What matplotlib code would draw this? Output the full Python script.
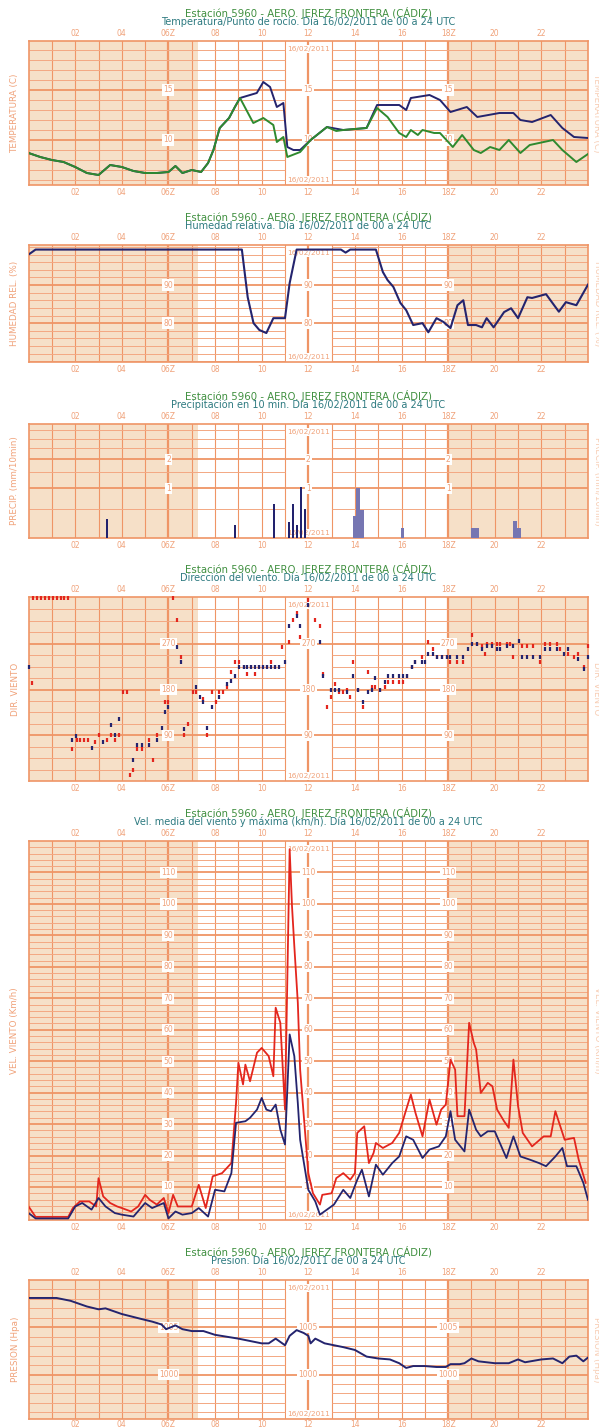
import numpy as np
import matplotlib
matplotlib.use("Agg")
import matplotlib.pyplot as plt
import matplotlib.transforms as mtransforms
from matplotlib.ticker import NullLocator

plt.rcParams['font.family'] = ['DejaVu Sans']

# ---------------- data ----------------
STATION = "Estación 5960 - AERO. JEREZ FRONTERA (CÁDIZ)"
DATE = "16/02/2011"
HOUR_TICKS = [2, 4, 6, 8, 10, 12, 14, 16, 18, 20, 22]
HOUR_LABELS = ["02", "04", "06Z", "08", "10", "12", "14", "16", "18Z", "20", "22"]
SUNRISE, SUNSET = 7.25, 18.05

temp_h = [0, 0.5, 1, 1.5, 2, 2.5, 3, 3.5, 4, 4.5, 5, 5.5, 6, 6.3, 6.6, 7, 7.4, 7.7, 7.93, 8.2,
          8.6, 8.85, 9.07, 9.5, 9.79, 10.07, 10.36, 10.65, 10.93, 11.1, 11.36, 11.65, 12.1, 12.8,
          13.5, 14.5, 14.95, 15.9, 16.2, 16.4, 17.2, 17.65, 18.1, 18.8, 19.25, 20.2, 20.8, 21.1,
          21.6, 22.4, 22.9, 23.4, 24]
temp = [8.7, 8.3, 8.0, 7.8, 7.3, 6.7, 6.5, 7.5, 7.3, 6.9, 6.7, 6.7, 6.8, 7.4, 6.7, 7.0, 6.8, 7.7,
        9.0, 11.2, 12.2, 13.3, 14.2, 14.5, 14.7, 15.8, 15.3, 13.3, 13.7, 9.3, 9.0, 9.0, 10.0, 11.3,
        11.0, 11.2, 13.5, 13.5, 13.0, 14.2, 14.5, 14.0, 12.8, 13.3, 12.3, 12.7, 12.7, 12.0, 11.8,
        12.5, 11.2, 10.3, 10.2]

dew_h = [0, 0.5, 1, 1.5, 2, 2.5, 3, 3.5, 4, 4.5, 5, 5.5, 6, 6.3, 6.6, 7, 7.4, 7.7, 7.93, 8.2,
         8.6, 8.85, 9.07, 9.64, 10.07, 10.5, 10.65, 10.93, 11.1, 11.65, 12.1, 12.8, 13.2, 13.5,
         14.5, 14.95, 15.4, 15.9, 16.2, 16.4, 16.7, 16.9, 17.4, 17.65, 18.2, 18.6, 19.1, 19.4,
         19.8, 20.2, 20.6, 21.1, 21.5, 21.9, 22.5, 22.9, 23.5, 24]
dew = [8.7, 8.3, 8.0, 7.8, 7.3, 6.7, 6.5, 7.5, 7.3, 6.9, 6.7, 6.7, 6.8, 7.4, 6.7, 7.0, 6.8, 7.7,
       9.0, 11.2, 12.2, 13.3, 14.2, 11.7, 12.2, 11.5, 9.8, 10.3, 8.3, 8.8, 10.0, 11.3, 10.9, 11.0,
       11.2, 13.2, 12.3, 10.7, 10.3, 11.0, 10.5, 11.0, 10.7, 10.7, 9.3, 10.5, 9.0, 8.7, 9.3, 9.0,
       10.0, 8.7, 9.5, 9.7, 10.0, 9.0, 7.8, 8.6]

hum_h = [0, 0.3, 9.15, 9.4, 9.65, 9.9, 10.2, 10.5, 11.0, 11.2, 11.5, 13.4, 13.6, 13.8, 14.9,
         15.2, 15.4, 15.65, 15.95, 16.2, 16.5, 16.9, 17.15, 17.5, 17.8, 18.1, 18.4, 18.65, 18.85,
         19.2, 19.45, 19.65, 19.95, 20.4, 20.7, 21.0, 21.4, 21.6, 22.2, 22.45, 22.75, 23.05,
         23.5, 24]
hum = [98, 99.3, 99.3, 86.8, 80, 78.2, 77.4, 81.3, 81.3, 90.5, 99.3, 99.3, 98.5, 99.3, 99.3,
       93.4, 91.3, 89.5, 85.3, 83.4, 79.5, 80, 77.6, 81.3, 80.3, 78.7, 84.7, 86, 79.5, 79.5,
       78.9, 81.3, 78.9, 82.9, 83.9, 81.3, 86.8, 86.6, 87.6, 85.5, 83, 85.5, 84.7, 90.1]

rain_dark_h = [3.37, 8.86, 10.53, 11.19, 11.36, 11.52, 11.69, 11.86]
rain_dark = [0.3, 0.2, 0.6, 0.25, 0.6, 0.2, 1.05, 0.5]
rain_light_h = [13.98, 14.15, 14.32, 16.04, 19.05, 19.22, 20.88, 21.04]
rain_light = [0.35, 1.0, 0.47, 0.15, 0.15, 0.15, 0.26, 0.15]

dir_blue_h = [0.03, 1.85, 2.03, 2.70, 3.21, 3.54, 3.71, 3.88, 4.49, 4.67, 4.85, 5.18, 5.52,
              5.71, 5.85, 6.0, 6.35, 6.53, 6.68, 7.18, 7.35, 7.5, 7.67, 7.85, 8.19, 8.53, 8.69,
              8.86, 9.03, 9.22, 9.39, 9.56, 9.73, 9.9, 10.07, 10.24, 10.42, 10.59, 10.76, 11.0,
              11.19, 11.5, 11.65, 12.0, 12.5, 12.65, 12.98, 13.15, 13.3, 13.65, 13.93, 14.15,
              14.36, 14.58, 14.72, 14.86, 15.08, 15.29, 15.44, 15.65, 15.87, 16.08, 16.22, 16.44,
              16.58, 16.87, 17.0, 17.15, 17.37, 17.51, 17.73, 17.94, 18.08, 18.37, 18.65, 18.87,
              19.01, 19.23, 19.44, 19.66, 19.87, 20.09, 20.23, 20.52, 20.8, 21.02, 21.16, 21.37,
              21.66, 21.95, 22.16, 22.37, 22.66, 22.95, 23.16, 23.59, 23.81, 24.0]
dir_blue = [225, 81, 88, 65, 77, 111, 91, 121, 42, 71, 71, 71, 81, 105, 135, 145, 264, 234, 103,
            185, 165, 155, 105, 145, 165, 191, 197, 207, 225, 225, 225, 225, 225, 225, 225, 225,
            225, 225, 225, 234, 304, 324, 304, 346, 274, 207, 180, 180, 180, 175, 207, 180, 155,
            175, 180, 202, 180, 195, 207, 207, 207, 207, 207, 225, 234, 234, 234, 250, 250, 244,
            244, 244, 244, 244, 244, 260, 270, 270, 260, 265, 265, 260, 260, 265, 265, 276, 244,
            244, 244, 244, 260, 260, 260, 250, 260, 240, 220, 244]
dir_red_h = [0.15, 0.2, 0.37, 0.54, 0.7, 0.87, 1.04, 1.2, 1.37, 1.54, 1.71, 1.85, 2.06, 2.22,
             2.39, 2.56, 2.85, 3.04, 3.35, 3.54, 3.71, 3.88, 4.04, 4.21, 4.35, 4.49, 4.67, 4.85,
             5.18, 5.35, 5.52, 5.85, 6.0, 6.18, 6.35, 6.53, 6.68, 6.86, 7.04, 7.18, 7.5, 7.67,
             7.85, 8.03, 8.19, 8.36, 8.53, 8.69, 8.86, 9.03, 9.22, 9.39, 9.56, 9.73, 9.9, 10.07,
             10.24, 10.42, 10.59, 10.86, 11.19, 11.36, 11.5, 11.65, 12.0, 12.3, 12.5, 12.65, 12.8,
             12.98, 13.15, 13.3, 13.5, 13.65, 13.8, 13.93, 14.15, 14.36, 14.58, 14.72, 14.86,
             15.08, 15.29, 15.44, 15.65, 15.87, 16.08, 16.22, 16.44, 16.58, 16.87, 17.15, 17.37,
             17.51, 17.73, 17.94, 18.08, 18.37, 18.65, 19.01, 19.23, 19.44, 19.58, 19.66, 19.87,
             20.09, 20.23, 20.52, 20.66, 20.8, 21.16, 21.37, 21.66, 21.95, 22.16, 22.37, 22.66,
             22.8, 23.16, 23.38, 23.59, 23.81, 24.0]
dir_red = [193, 360, 360, 360, 360, 360, 360, 360, 360, 360, 360, 62, 81, 81, 81, 81, 77, 91, 81,
           91, 81, 91, 175, 175, 12, 22, 62, 62, 81, 42, 91, 155, 155, 360, 316, 244, 91, 113,
           175, 175, 161, 91, 175, 155, 175, 175, 185, 215, 234, 234, 225, 210, 225, 210, 225,
           225, 225, 234, 225, 264, 274, 316, 330, 284, 356, 316, 304, 210, 145, 165, 191, 175,
           175, 180, 165, 234, 180, 145, 215, 185, 185, 180, 185, 195, 195, 195, 195, 207, 225,
           234, 244, 274, 260, 244, 244, 244, 234, 234, 234, 288, 270, 265, 250, 270, 270, 270,
           270, 270, 270, 244, 265, 265, 265, 234, 270, 270, 270, 260, 250, 244, 250, 225, 265]

gust_h = [0, 0.3, 1.7, 1.9, 2.2, 2.6, 2.9, 3.0, 3.2, 3.5, 3.8, 4.0, 4.4, 4.7, 5.0, 5.2, 5.5,
          5.8, 6.0, 6.2, 6.4, 7.0, 7.3, 7.6, 7.9, 8.3, 8.7, 8.9, 9.0, 9.2, 9.3, 9.5, 9.8, 10.0,
          10.3, 10.5, 10.6, 10.8, 11.0, 11.2, 11.3, 11.4, 11.55, 11.65, 12.0, 12.2, 12.5, 12.6,
          13.0, 13.2, 13.5, 13.8, 14.0, 14.1, 14.4, 14.6, 14.8, 14.9, 15.2, 15.6, 15.9, 16.2,
          16.4, 16.6, 16.9, 17.2, 17.5, 17.7, 17.9, 18.1, 18.3, 18.4, 18.7, 18.9, 19.1, 19.2,
          19.4, 19.7, 19.9, 20.1, 20.4, 20.6, 20.8, 21.0, 21.2, 21.6, 22.1, 22.4, 22.6, 23.0,
          23.4, 23.6, 23.9]
gust = [3.8, 0.5, 0.5, 3.3, 5.4, 5.4, 3.8, 12.8, 7.0, 4.9, 3.8, 3.3, 2.2, 3.8, 7.5, 5.9, 4.4,
        6.5, 1.7, 7.5, 3.8, 3.8, 10.7, 3.3, 13.4, 14.4, 17.6, 36.7, 49.5, 42.6, 48.9, 43.6,
        52.7, 54.2, 51.6, 45.2, 67.0, 62.2, 34.6, 117.4, 99.4, 86.6, 68.6, 47.3, 14.4, 8.0,
        4.4, 7.5, 8.0, 12.8, 14.4, 12.3, 14.4, 27.2, 29.3, 17.6, 20.8, 24.0, 22.4, 24.0, 27.2,
        34.6, 39.4, 33.5, 26.1, 37.8, 29.8, 34.6, 36.2, 50.5, 47.3, 32.5, 32.5, 62.2, 55.8,
        53.7, 39.9, 43.1, 42.0, 34.6, 30.9, 28.8, 50.5, 35.7, 27.2, 22.9, 26.1, 26.1, 34.1,
        25.0, 25.6, 18.7, 11.3]

mean_h = [0, 0.3, 1.7, 2.0, 2.3, 2.7, 3.0, 3.3, 3.7, 4.0, 4.5, 5.0, 5.3, 5.8, 6.0, 6.3, 6.6,
          7.0, 7.3, 7.7, 8.0, 8.4, 8.7, 8.9, 9.3, 9.5, 9.8, 10.0, 10.2, 10.4, 10.6, 10.8, 11.0,
          11.2, 11.4, 11.55, 11.65, 12.0, 12.3, 12.5, 12.8, 13.1, 13.5, 13.8, 14.1, 14.3, 14.6,
          14.9, 15.2, 15.6, 15.9, 16.2, 16.5, 16.9, 17.2, 17.6, 17.9, 18.1, 18.3, 18.7, 18.9,
          19.2, 19.4, 19.7, 20.0, 20.5, 20.8, 21.1, 21.5, 21.9, 22.2, 22.6, 22.9, 23.1, 23.5,
          23.8, 24.0]
mean = [1.7, 0, 0, 3.8, 4.9, 2.8, 6.5, 3.8, 1.7, 1.2, 0.6, 4.9, 3.3, 4.9, 0, 2.2, 1.2, 1.7,
        3.3, 0.6, 9.1, 8.6, 14.4, 30.4, 30.9, 32.0, 34.6, 38.3, 34.6, 34.1, 36.2, 28.2, 23.5,
        58.5, 51.6, 36.7, 25.0, 9.1, 5.4, 1.2, 2.8, 4.4, 9.1, 6.5, 12.3, 15.5, 7.0, 17.1, 13.9,
        17.6, 19.7, 26.1, 25.0, 19.2, 21.9, 22.9, 26.1, 34.1, 25.0, 21.3, 34.6, 28.2, 26.1,
        27.7, 27.7, 19.2, 26.1, 19.7, 18.7, 17.6, 16.6, 19.7, 22.4, 16.6, 16.6, 11.3, 5.9]

pres_h = [0, 1.2, 1.8, 2.5, 3.0, 3.3, 4.0, 4.8, 5.3, 5.7, 5.9, 6.3, 6.6, 7.0, 7.5, 8.0, 9.0,
          10.0, 10.3, 10.6, 11.0, 11.2, 11.5, 11.8, 12.0, 12.1, 12.3, 12.7, 13.1, 13.5, 14.0,
          14.5, 15.0, 15.5, 15.9, 16.2, 16.5, 17.0, 17.5, 17.9, 18.1, 18.5, 18.7, 19.0, 19.3,
          20.0, 20.6, 21.0, 21.3, 22.0, 22.5, 22.9, 23.2, 23.5, 23.8, 24.0]
pres = [1008.1, 1008.1, 1007.8, 1007.2, 1006.9, 1007.0, 1006.4, 1005.9, 1005.6, 1005.3,
        1004.8, 1005.2, 1004.8, 1004.6, 1004.6, 1004.2, 1003.8, 1003.3, 1003.3, 1003.8,
        1003.1, 1004.1, 1004.7, 1004.4, 1004.1, 1003.3, 1003.8, 1003.3, 1003.1, 1002.9,
        1002.6, 1001.9, 1001.7, 1001.6, 1001.2, 1000.7, 1000.9, 1000.9, 1000.8, 1000.8,
        1001.1, 1001.1, 1001.2, 1001.7, 1001.4, 1001.2, 1001.2, 1001.6, 1001.3, 1001.6,
        1001.7, 1001.2, 1001.9, 1002.0, 1001.4, 1001.8]

# ---------------- style ----------------
TAN = '#f6e0c8'
GRID = '#ef9566'
GRID_MINOR = '#f3a882'
TICK = '#f0a27a'
NAVY = '#24246e'
GREEN = '#2f8a2f'
RED = '#e3261e'
DARKBAR = '#22226e'
LIGHTBAR = '#7676b2'
TITLE1 = '#3f8f3f'
TITLE2 = '#2d7a80'

W, H = 599, 1428
X0, X1 = 28.6, 588.0

fig = plt.figure(figsize=(W / 100, H / 100), dpi=100)
fig.patch.set_facecolor('white')


def make_axes(top, bottom):
    return fig.add_axes([X0 / W, 1 - bottom / H, (X1 - X0) / W, (bottom - top) / H])


def dress(ax, top, bottom, ylim, majors, minors, labels, ylabel, subtitle,
          bottom_labels_inside=False):
    ax.set_xlim(0, 24)
    ax.set_ylim(*ylim)
    ax.axvspan(0, SUNRISE, color=TAN, lw=0, zorder=0)
    ax.axvspan(SUNSET, 24, color=TAN, lw=0, zorder=0)
    for h in range(1, 24):
        ax.axvline(h, color=GRID, lw=1.6 if h % 6 == 0 else 0.8, zorder=1)
    for y in minors:
        ax.hlines(y, 0, 11, color=GRID_MINOR, lw=0.7, zorder=1)
        ax.hlines(y, 13, 24, color=GRID_MINOR, lw=0.7, zorder=1)
    for y in majors:
        ax.axhline(y, color=GRID, lw=1.3, zorder=1)
    for s in ax.spines.values():
        s.set_color(GRID)
        s.set_linewidth(1.2)
    ax.set_yticks([])
    ax.yaxis.set_minor_locator(NullLocator())
    ax.set_xticks(HOUR_TICKS)
    ax.set_xticklabels(HOUR_LABELS)
    ax.xaxis.set_minor_locator(NullLocator())
    ax.tick_params(axis='x', length=0, labelsize=5.5, labelcolor=TICK, top=True,
                   labeltop=True, bottom=True, labelbottom=not bottom_labels_inside, pad=2.5)
    trans = mtransforms.blended_transform_factory(ax.transData, ax.transAxes)
    hpx = bottom - top
    if bottom_labels_inside:
        for h, lab in zip(HOUR_TICKS, HOUR_LABELS):
            ax.text(h, -(H - 3.5 - bottom) / hpx, lab, transform=trans, ha='center',
                    va='center', fontsize=5.5, color=TICK, clip_on=False)
    for xh in (6, 12, 18):
        for v, lab in zip(majors, labels):
            ax.text(xh, v, lab, ha='center', va='center', fontsize=5.5, color=TICK, zorder=3,
                    bbox=dict(boxstyle='square,pad=0.15', fc='white', ec='none'))
    for yy in (1 - 8 / hpx, 5 / hpx):
        ax.text(12, yy, DATE, transform=trans, ha='center', va='center', fontsize=5.3,
                color=TICK, zorder=3,
                bbox=dict(boxstyle='square,pad=0.1', fc='white', ec='none'))
    cx = (X0 + X1) / 2 / W
    fig.text(cx, 1 - (top - 28) / H, STATION, ha='center', va='center', fontsize=7.3,
             color=TITLE1)
    fig.text(cx, 1 - (top - 19) / H, subtitle, ha='center', va='center', fontsize=7.0,
             color=TITLE2)
    fig.text(15 / W, 1 - (top + bottom) / 2 / H, ylabel, rotation=90, ha='center',
             va='center', fontsize=6.3, color=TICK)
    fig.text(597 / W, 1 - (top + bottom) / 2 / H, ylabel, rotation=270, ha='center',
             va='center', fontsize=6.3, color='#f7cdb4')


# ---- 1: temperature ----
top, bot = 41, 185
ax1 = make_axes(top, bot)
dress(ax1, top, bot, (5.5, 19.9), [10, 15],
      [v for v in range(6, 20) if v not in (10, 15)], ["10", "15"],
      "TEMPERATURA (C)", "Temperatura/Punto de rocío. Día 16/02/2011 de 00 a 24 UTC")
ax1.plot(temp_h, temp, color=NAVY, lw=1.4, zorder=4)
ax1.plot(dew_h, dew, color=GREEN, lw=1.4, zorder=5)

# ---- 2: humidity ----
top, bot = 245, 362
ax2 = make_axes(top, bot)
dress(ax2, top, bot, (69.8, 100.5), [80, 90],
      [v for v in range(70, 101, 2) if v not in (80, 90)], ["80", "90"],
      "HUMEDAD REL. (%)", "Humedad relativa. Día 16/02/2011 de 00 a 24 UTC")
ax2.plot(hum_h, hum, color=NAVY, lw=1.5, zorder=4)

# ---- 3: precipitation ----
top, bot = 424, 538
ax3 = make_axes(top, bot)
ax3.set_yscale('function', functions=(lambda v: np.log1p(np.maximum(v, 0)),
                                      lambda u: np.expm1(u)))
dress(ax3, top, bot, (0, 3.9), [1, 2], [0.5, 1.5, 2.5, 3.0, 3.5], ["1", "2"],
      "PRECIP. (mm/10min)", "Precipitación en 10 min. Día 16/02/2011 de 00 a 24 UTC")
ax3.bar(rain_dark_h, rain_dark, width=0.09, color=DARKBAR, zorder=4)
ax3.bar(rain_light_h, rain_light, width=0.167, color=LIGHTBAR, zorder=4)

# ---- 4: wind direction ----
top, bot = 597, 781
ax4 = make_axes(top, bot)
dress(ax4, top, bot, (0, 362), [90, 180, 270],
      [v for v in np.arange(22.5, 360, 22.5) if v not in (90, 180, 270)],
      ["90", "180", "270"],
      "DIR. VIENTO", "Dirección del viento. Día 16/02/2011 de 00 a 24 UTC")
ax4.plot(dir_red_h, dir_red, ls='none', marker='|', ms=3.2, mew=1.6, color=RED, zorder=4,
         clip_on=False)
ax4.plot(dir_blue_h, dir_blue, ls='none', marker='|', ms=3.2, mew=1.6, color=NAVY, zorder=5,
         clip_on=False)

# ---- 5: wind speed ----
top, bot = 841, 1220
ax5 = make_axes(top, bot)
dress(ax5, top, bot, (-0.5, 120), list(range(10, 111, 10)),
      [v for v in range(2, 120, 2) if v % 10 != 0], [str(v) for v in range(10, 111, 10)],
      "VEL. VIENTO (Km/h)",
      "Vel. media del viento y máxima (km/h). Día 16/02/2011 de 00 a 24 UTC")
ax5.plot(gust_h, gust, color=RED, lw=1.3, zorder=4)
ax5.plot(mean_h, mean, color=NAVY, lw=1.3, zorder=5)

# ---- 6: pressure ----
top, bot = 1280, 1419
ax6 = make_axes(top, bot)
dress(ax6, top, bot, (995.3, 1010), [1000, 1005],
      [v for v in range(996, 1010) if v not in (1000, 1005)], ["1000", "1005"],
      "PRESION (Hpa)", "Presion. Día 16/02/2011 de 00 a 24 UTC",
      bottom_labels_inside=True)
ax6.plot(pres_h, pres, color=NAVY, lw=1.4, zorder=4)

fig.savefig("out.png", dpi=100, facecolor='white')
